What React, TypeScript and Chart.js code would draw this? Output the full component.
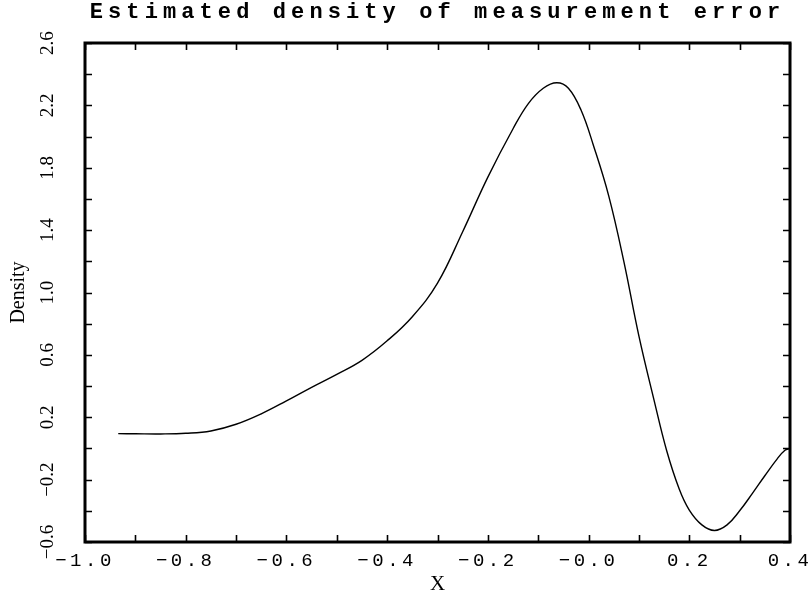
import React, { useEffect, useRef } from "react";
import { Chart, registerables } from "chart.js";

Chart.register(...registerables);

// ---- data ----
const xValues = [
  -0.934, -0.9, -0.85, -0.8, -0.75, -0.7, -0.65, -0.6, -0.55, -0.5, -0.45, -0.4,
  -0.35, -0.3, -0.25, -0.2, -0.15, -0.12, -0.09, -0.063, -0.04, -0.015, 0.01, 0.04,
  0.07, 0.1, 0.13, 0.155, 0.18, 0.2, 0.225, 0.25, 0.275, 0.3, 0.325, 0.35, 0.375,
  0.39, 0.4,
];
const densityValues = [
  0.095, 0.094, 0.093, 0.097, 0.112, 0.155, 0.222, 0.305, 0.392, 0.475, 0.565, 0.69,
  0.845, 1.06, 1.39, 1.74, 2.05, 2.21, 2.31, 2.345, 2.31, 2.17, 1.94, 1.62,
  1.2, 0.72, 0.31, -0.013, -0.26, -0.395, -0.49, -0.526, -0.49, -0.4, -0.29, -0.175, -0.065,
  -0.012, 0.0,
];

const xTickValues = [-1.0, -0.8, -0.6, -0.4, -0.2, 0.0, 0.2, 0.4];
const xTickLabels = ["\u22121.0", "\u22120.8", "\u22120.6", "\u22120.4", "\u22120.2", "\u22120.0", "0.2", "0.4"];
const yTickValues = [-0.6, -0.2, 0.2, 0.6, 1.0, 1.4, 1.8, 2.2, 2.6];
const yTickLabels = ["\u22120.6", "\u22120.2", "0.2", "0.6", "1.0", "1.4", "1.8", "2.2", "2.6"];

const titleText = "Estimated density of measurement error";
const xTitle = "X";
const yTitle = "Density";

function labelFor(values: number[], labels: string[], v: number): string {
  for (let i = 0; i < values.length; i++) {
    if (Math.abs(values[i] - v) < 1e-6) return labels[i];
  }
  return "";
}

function withSpacing(obj: any, method: string, spacing: string) {
  if (!obj) return;
  obj.__spaced = obj.__spaced || {};
  if (obj.__spaced[method]) return;
  const orig = obj[method];
  obj[method] = function (...args: any[]) {
    const ctx = this.ctx;
    ctx.save();
    (ctx as any).letterSpacing = spacing;
    orig.apply(this, args);
    ctx.restore();
  };
  obj.__spaced[method] = true;
}

const framePlugin = {
  id: "frameTicks",
  beforeDraw(chart: any) {
    withSpacing(chart.scales.x, "drawLabels", "3.5px");
    withSpacing(chart.titleBlock, "draw", "5.1px");
  },
  afterDraw(chart: any) {
    const { ctx, chartArea } = chart;
    const { left, right, top, bottom } = chartArea;
    const xs = chart.scales.x;
    const ys = chart.scales.y;
    const tl = 7;
    ctx.save();
    ctx.strokeStyle = "#000";
    ctx.lineWidth = 1.6;
    ctx.beginPath();
    xs.ticks.forEach((t: any) => {
      const p = Math.round(xs.getPixelForValue(t.value)) + 0.5;
      ctx.moveTo(p, bottom);
      ctx.lineTo(p, bottom - tl);
      ctx.moveTo(p, top);
      ctx.lineTo(p, top + tl);
    });
    ys.ticks.forEach((t: any) => {
      const p = Math.round(ys.getPixelForValue(t.value)) + 0.5;
      ctx.moveTo(left, p);
      ctx.lineTo(left + tl, p);
      ctx.moveTo(right, p);
      ctx.lineTo(right - tl, p);
    });
    ctx.stroke();
    ctx.lineWidth = 3;
    ctx.strokeRect(left, top, right - left, bottom - top);
    ctx.restore();
  },
};

export default function App() {
  const canvasRef = useRef<HTMLCanvasElement | null>(null);

  useEffect(() => {
    if (!canvasRef.current) return;
    Chart.defaults.color = "#000";
    const chart = new Chart(canvasRef.current, {
      type: "line",
      data: {
        datasets: [
          {
            data: xValues.map((x, i) => ({ x, y: densityValues[i] })),
            borderColor: "#000",
            borderWidth: 1.4,
            pointRadius: 0,
            fill: false,
            tension: 0.4,
          },
        ],
      },
      options: {
        animation: false,
        responsive: false,
        devicePixelRatio: 1,
        layout: { padding: { left: 0, right: 21, top: 0, bottom: 0 } },
        plugins: {
          legend: { display: false },
          tooltip: { enabled: false },
          title: {
            display: true,
            text: titleText,
            fullSize: false,
            color: "#000",
            font: { family: "'Liberation Mono', monospace", size: 22, weight: "bold", lineHeight: 1.1 },
            padding: { top: 0, bottom: 18.8 },
          },
        },
        scales: {
          x: {
            type: "linear",
            min: -1.0,
            max: 0.4,
            grid: { display: false },
            border: { display: false },
            ticks: {
              stepSize: 0.1,
              autoSkip: false,
              maxRotation: 0,
              minRotation: 0,
              padding: 0,
              color: "#000",
              font: { family: "'Liberation Mono', monospace", size: 19, lineHeight: 1.2 },
              callback: (v: any) => labelFor(xTickValues, xTickLabels, Number(v)),
            },
            title: {
              display: true,
              text: xTitle,
              color: "#000",
              font: { family: "'Liberation Serif', serif", size: 21, lineHeight: 1.2 },
              padding: { top: 0, bottom: -2 },
            },
            afterFit: (s: any) => {
              s.height = 53;
            },
          },
          y: {
            type: "linear",
            min: -0.6,
            max: 2.6,
            grid: { display: false },
            border: { display: false },
            ticks: {
              stepSize: 0.2,
              autoSkip: false,
              minRotation: 90,
              maxRotation: 90,
              crossAlign: "center",
              padding: 12,
              color: "#000",
              font: { family: "'Liberation Serif', serif", size: 19, lineHeight: 1.2 },
              callback: (v: any) => labelFor(yTickValues, yTickLabels, Number(v)),
            },
            title: {
              display: true,
              text: yTitle,
              color: "#000",
              font: { family: "'Liberation Serif', serif", size: 20, lineHeight: 1.2 },
              padding: { top: 7, bottom: 0 },
            },
            afterFit: (s: any) => {
              s.width = 85;
            },
          },
        },
      },
      plugins: [framePlugin],
    } as any);
    return () => chart.destroy();
  }, []);

  return (
    <div style={{ position: "fixed", left: 0, top: 0, width: 811, height: 595, background: "#fff" }}>
      <canvas ref={canvasRef} width={811} height={595} style={{ width: 811, height: 595, display: "block" }} />
    </div>
  );
}
